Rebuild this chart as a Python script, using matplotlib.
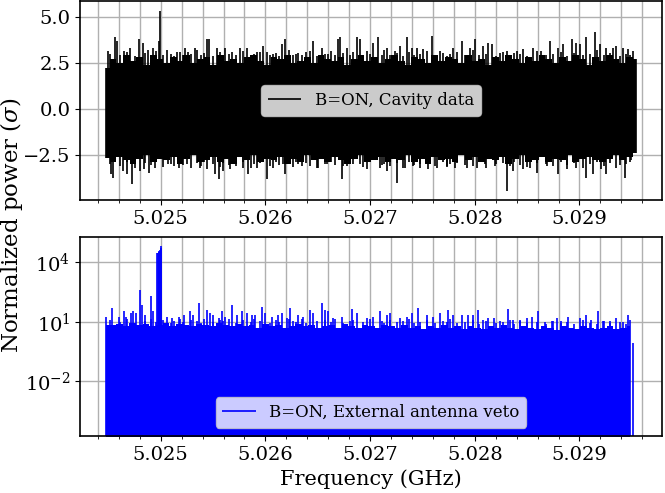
import matplotlib
matplotlib.use("Agg")
import matplotlib.pyplot as plt
import numpy as np
from matplotlib.ticker import MultipleLocator, FormatStrFormatter, FixedLocator, NullLocator

plt.rcParams["font.family"] = "DejaVu Serif"
plt.rcParams["mathtext.fontset"] = "dejavuserif"

# frequency span of the scans (GHz)
CAV_START, CAV_END = 5.02448, 5.02954
VETO_START, VETO_END = 5.02448, 5.029483

# cavity data: dense noise band (upper / lower edge) read across the span
cav_band_hi = [2.2, 2.7, 2.5, 2.9, 2.6, 2.8, 2.4, 2.9, 2.7, 2.5, 2.8, 2.6, 2.9, 2.5, 2.7, 2.8,
               2.4, 2.9, 2.6, 2.7, 2.5, 2.8, 2.9, 2.6, 2.4, 2.8, 2.7, 2.9, 2.5, 2.6, 2.8, 2.5,
               2.9, 2.7, 2.6, 2.8, 2.4, 2.7, 2.9, 2.6, 2.8, 2.5, 2.7, 2.9, 2.6, 2.4, 2.8, 2.7,
               2.5, 2.9, 2.6, 2.8, 2.7, 2.5, 2.9, 2.6, 2.7, 2.4, 2.8, 2.6, 2.9, 2.7, 2.5, 2.8,
               2.6, 2.9, 2.7, 2.5, 2.8, 2.6, 2.9, 2.7, 2.4, 2.8, 2.6, 2.9, 2.7, 2.5, 2.8, 2.7]
cav_band_lo = [-2.65, -2.9, -2.6, -2.8, -3.0, -2.7, -2.5, -2.9, -2.7, -2.8, -2.6, -3.0, -2.7,
               -2.5, -2.9, -2.8, -2.6, -2.9, -2.7, -3.0, -2.6, -2.8, -2.5, -2.9, -2.7, -2.8,
               -2.6, -3.0, -2.7, -2.9, -2.5, -2.8, -2.7, -2.9, -2.6, -2.8, -3.0, -2.7, -2.5,
               -2.9, -2.8, -2.6, -2.9, -2.7, -2.8, -2.5, -2.9, -2.7, -3.0, -2.6, -2.8, -2.7,
               -2.9, -2.5, -2.8, -2.6, -2.9, -2.7, -2.8, -2.6, -3.0, -2.7, -2.5, -2.9, -2.8,
               -2.6, -2.9, -2.7, -2.8, -2.5, -2.9, -2.7, -2.6, -2.8, -2.9, -2.7, -2.5, -2.8,
               -2.6, -2.4]

# cavity data: large excursions above the band
cav_up_freq = [5.024480, 5.024496, 5.024566, 5.024582, 5.024645, 5.024709, 5.024795, 5.024826,
               5.024878, 5.024931, 5.024979, 5.024989, 5.025059, 5.025154, 5.025234, 5.025265,
               5.025323, 5.025441, 5.025463, 5.025536, 5.025618, 5.025679, 5.025759, 5.025822,
               5.025918, 5.025975, 5.026013, 5.026071, 5.026156, 5.026188, 5.026315, 5.026427,
               5.026458, 5.026538, 5.026601, 5.026697, 5.026713, 5.026777, 5.026872, 5.026904,
               5.026968, 5.027031, 5.027078, 5.027158, 5.027238, 5.027285, 5.027349, 5.027397,
               5.027445, 5.027508, 5.027588, 5.027667, 5.027794, 5.027874, 5.027953, 5.028001,
               5.028080, 5.028128, 5.028160, 5.028239, 5.028303, 5.028399, 5.028462, 5.028557,
               5.028637, 5.028717, 5.028796, 5.028844, 5.028924, 5.028971, 5.029003, 5.029067,
               5.029146, 5.029194, 5.029258, 5.029321, 5.029353, 5.029416, 5.029464, 5.029512,
               5.029540]
cav_up_val = [2.2, 3.15, 3.9, 3.7, 3.15, 3.3, 3.8, 3.6, 3.2, 3.3, 3.7, 5.3, 3.2, 3.1, 3.3, 3.1,
              3.3, 3.8, 3.8, 3.3, 3.3, 3.1, 3.3, 3.3, 3.1, 3.4, 3.1, 3.0, 3.5, 3.8, 3.06, 3.15,
              3.7, 3.33, 2.97, 3.79, 3.88, 3.33, 3.88, 3.79, 3.15, 3.6, 3.88, 3.33, 3.15, 3.42,
              3.88, 3.33, 3.33, 3.24, 3.97, 3.15, 3.33, 3.7, 3.33, 3.79, 3.42, 3.6, 3.51, 3.06,
              3.15, 3.15, 3.24, 3.33, 3.15, 3.7, 3.33, 3.51, 3.79, 3.6, 3.51, 3.88, 4.15, 3.51,
              3.33, 3.33, 3.42, 3.33, 3.24, 3.15, 2.7]

# cavity data: large excursions below the band
cav_dn_freq = [5.024480, 5.024525, 5.024544, 5.024639, 5.024677, 5.024725, 5.024804, 5.024843,
               5.024884, 5.024948, 5.025074, 5.025170, 5.025250, 5.025377, 5.025441, 5.025520,
               5.025552, 5.025599, 5.025663, 5.025790, 5.025838, 5.025918, 5.026013, 5.026076,
               5.026172, 5.026188, 5.026315, 5.026427, 5.026506, 5.026586, 5.026729, 5.026777,
               5.026904, 5.026968, 5.027094, 5.027158, 5.027254, 5.027333, 5.027412, 5.027476,
               5.027555, 5.027635, 5.027731, 5.027810, 5.027922, 5.028017, 5.028096, 5.028192,
               5.028303, 5.028367, 5.028462, 5.028526, 5.028590, 5.028685, 5.028796, 5.028876,
               5.028971, 5.029067, 5.029130, 5.029210, 5.029258, 5.029353, 5.029432, 5.029496,
               5.029540]
cav_dn_val = [-2.65, -3.55, -3.73, -3.37, -3.55, -4.1, -3.37, -3.28, -3.46, -3.19, -3.0, -3.19,
              -3.0, -3.19, -3.28, -3.55, -3.82, -3.37, -3.28, -3.19, -3.55, -3.19, -3.82, -3.19,
              -3.0, -3.55, -3.0, -3.1, -3.19, -3.0, -3.82, -3.1, -3.0, -3.28, -3.19, -3.37, -4.0,
              -3.19, -3.1, -3.19, -3.28, -3.19, -3.1, -3.19, -3.19, -3.19, -3.0, -3.1, -4.46,
              -3.37, -3.28, -3.19, -3.46, -3.1, -3.55, -3.28, -3.19, -3.73, -3.55, -3.28, -3.55,
              -3.19, -3.73, -2.8, -2.4]

# smaller spikes at the edge of the bands (both panels)
mid_freq = [5.024520, 5.024610, 5.024680, 5.024750, 5.024850, 5.024905, 5.024955, 5.025020,
            5.025095, 5.025125, 5.025185, 5.025210, 5.025290, 5.025350, 5.025385, 5.025410,
            5.025500, 5.025570, 5.025595, 5.025650, 5.025720, 5.025790, 5.025860, 5.025890,
            5.025945, 5.026040, 5.026100, 5.026130, 5.026225, 5.026260, 5.026290, 5.026350,
            5.026390, 5.026490, 5.026570, 5.026630, 5.026660, 5.026745, 5.026810, 5.026840,
            5.026935, 5.027000, 5.027110, 5.027130, 5.027190, 5.027260, 5.027315, 5.027375,
            5.027420, 5.027475, 5.027540, 5.027620, 5.027700, 5.027730, 5.027760, 5.027830,
            5.027910, 5.027980, 5.028040, 5.028105, 5.028200, 5.028270, 5.028340, 5.028370,
            5.028430, 5.028500, 5.028590, 5.028680, 5.028750, 5.028820, 5.028880, 5.028950,
            5.029035, 5.029100, 5.029170, 5.029230, 5.029290, 5.029385, 5.029440, 5.029478]
cav_mid_up = [3.0, 2.9, 3.1, 2.85, 3.05, 2.9, 3.15, 2.95, 3.0, 2.85,
              3.1, 2.9, 3.0, 3.2, 2.9, 3.05, 2.85, 3.1, 2.95, 3.0,
              2.9, 3.15, 2.85, 3.0, 3.1, 2.9, 3.05, 2.85, 3.2, 2.95,
              3.0, 2.9, 3.1, 2.85, 3.0, 3.15, 2.9, 3.05, 2.95, 3.1,
              2.85, 3.0, 2.9, 3.2, 2.95, 3.05, 2.85, 3.1, 2.9, 3.0,
              3.15, 2.9, 3.05, 2.85, 3.0, 3.1, 2.9, 3.2, 2.95, 3.0,
              2.85, 3.1, 2.9, 3.05, 3.0, 2.85, 3.15, 2.9, 3.0, 3.1,
              2.85, 3.05, 2.95, 3.0, 3.2, 2.9, 3.05, 2.85, 3.0, 2.9]
cav_mid_dn = [-3.0, -3.1, -2.9, -3.2, -2.95, -3.05, -2.9, -3.15, -3.0, -3.1,
              -2.9, -3.05, -3.2, -2.95, -3.1, -2.9, -3.0, -3.15, -2.95, -3.05,
              -3.1, -2.9, -3.2, -3.0, -2.95, -3.1, -2.9, -3.05, -3.0, -3.15,
              -2.9, -3.1, -2.95, -3.2, -3.0, -2.9, -3.05, -3.1, -2.95, -3.0,
              -3.15, -2.9, -3.05, -3.0, -3.1, -2.95, -3.2, -2.9, -3.05, -3.0,
              -2.95, -3.1, -2.9, -3.15, -3.0, -2.95, -3.05, -3.1, -2.9, -3.2,
              -3.0, -2.95, -3.1, -2.9, -3.05, -3.15, -2.95, -3.0, -3.1, -2.9,
              -3.05, -2.95, -3.2, -3.0, -2.9, -3.1, -2.95, -3.05, -3.0, -2.9]
veto_mid = [12, 10, 14, 9, 11, 13, 10, 12, 9, 11,
            14, 10, 12, 11, 9, 13, 10, 12, 11, 14,
            9, 12, 10, 13, 11, 9, 12, 10, 14, 11,
            10, 13, 9, 11, 12, 10, 14, 9, 11, 12,
            10, 13, 11, 9, 12, 10, 11, 13, 9, 10,
            12, 9, 11, 10, 13, 9, 10, 12, 8, 11,
            9, 10, 12, 8, 11, 9, 10, 8, 11, 9,
            10, 8, 12, 9, 8, 11, 9, 10, 8, 12]

# external antenna veto: dense band top
veto_band = [7, 7, 8, 6, 9, 7, 8, 6, 7, 9, 6, 8, 7, 6, 8, 7, 6, 9, 7, 6, 8, 6, 7, 5, 8, 6, 7,
             5, 6, 8, 6, 7, 5, 6, 7, 5, 8, 6, 5, 7, 6, 5, 7, 6, 5, 7, 5, 6, 4.5, 6, 5, 7, 5, 6,
             4.5, 6, 5, 4.5, 6, 5, 7, 5, 4.5, 6, 5, 4.5, 6, 5, 4, 6, 5, 4.5, 6, 5, 4.5, 5, 6,
             4.5, 5, 6]

# external antenna veto: peaks
veto_freq = [5.024480, 5.024534, 5.024597, 5.024645, 5.024671, 5.024716, 5.024740, 5.024763,
             5.024804, 5.024821, 5.024852, 5.024906, 5.024931, 5.024964, 5.024970, 5.024979,
             5.024987, 5.024995, 5.025000, 5.025005, 5.025059, 5.025107, 5.025170, 5.025218,
             5.025281, 5.025313, 5.025370, 5.025441, 5.025472, 5.025504, 5.025552, 5.025584,
             5.025615, 5.025679, 5.025727, 5.025775, 5.025822, 5.025870, 5.025902, 5.025966,
             5.025997, 5.026061, 5.026124, 5.026156, 5.026204, 5.026236, 5.026315, 5.026363,
             5.026427, 5.026458, 5.026538, 5.026570, 5.026601, 5.026649, 5.026729, 5.026824,
             5.026872, 5.026968, 5.027031, 5.027094, 5.027158, 5.027190, 5.027285, 5.027349,
             5.027397, 5.027460, 5.027540, 5.027603, 5.027667, 5.027746, 5.027794, 5.027874,
             5.027937, 5.027985, 5.028033, 5.028080, 5.028128, 5.028182, 5.028239, 5.028319,
             5.028367, 5.028430, 5.028494, 5.028542, 5.028605, 5.028669, 5.028733, 5.028790,
             5.028828, 5.028891, 5.029003, 5.029067, 5.029114, 5.029178, 5.029225, 5.029289,
             5.029353, 5.029416, 5.029464, 5.029509]
veto_val = [18, 48, 18, 33, 18, 27, 33, 27, 400, 71, 22, 200, 33, 28000, 30000, 33000, 36000,
            42000, 50000, 62000, 18, 15, 18, 22, 33, 22, 90, 40, 27, 22, 15, 33, 18, 71, 22, 33,
            27, 22, 22, 58, 27, 18, 22, 27, 15, 48, 22, 18, 40, 27, 86, 40, 33, 15, 18, 45, 27,
            15, 18, 33, 22, 27, 15, 18, 27, 48, 22, 18, 27, 40, 22, 22, 22, 22, 40, 12.6, 15, 16,
            11, 46, 12.6, 12.6, 15, 18, 33, 10, 11, 15, 11, 18, 15, 22, 12.6, 33, 11, 11, 15, 10,
            22, 0.8]

FLOOR = 1e-7
LW = 1.2

fig = plt.figure(figsize=(6.65, 4.93), dpi=100)
ax1 = fig.add_axes([0.1203, 0.5943, 0.875, 0.4037])
ax2 = fig.add_axes([0.1203, 0.1156, 0.875, 0.4037])

# top panel: cavity data
ax1.fill_between(np.linspace(CAV_START, CAV_END, len(cav_band_hi)), 0, cav_band_hi,
                 color="black", lw=0, step="mid")
ax1.fill_between(np.linspace(CAV_START, CAV_END, len(cav_band_lo)), cav_band_lo, 0,
                 color="black", lw=0, step="mid")
ax1.vlines(mid_freq, 0, cav_mid_up, color="black", lw=LW)
ax1.vlines(mid_freq, cav_mid_dn, 0, color="black", lw=LW)
ax1.vlines(cav_up_freq, 0, cav_up_val, color="black", lw=LW, label="B=ON, Cavity data")
ax1.vlines(cav_dn_freq, cav_dn_val, 0, color="black", lw=LW)
ax1.set_ylim(-4.95, 5.86)
ax1.yaxis.set_major_locator(MultipleLocator(2.5))
ax1.legend(loc="center", fontsize=12)

# bottom panel: external antenna veto
ax2.set_yscale("log")
ax2.fill_between(np.linspace(VETO_START, VETO_END, len(veto_band)), FLOOR, veto_band,
                 color="blue", lw=0, step="mid")
ax2.vlines(mid_freq, FLOOR, veto_mid, color="blue", lw=LW)
ax2.vlines(veto_freq, FLOOR, veto_val, color="blue", lw=LW,
           label="B=ON, External antenna veto")
ax2.set_ylim(10 ** -4.76, 10 ** 5.27)
ax2.yaxis.set_major_locator(FixedLocator([1e-2, 1e1, 1e4]))
ax2.yaxis.set_minor_locator(NullLocator())
ax2.legend(loc="lower center", fontsize=12)
ax2.set_xlabel("Frequency (GHz)", fontsize=15)

for ax in (ax1, ax2):
    ax.set_xlim(5.024229, 5.029787)
    ax.xaxis.set_major_locator(MultipleLocator(0.001))
    ax.xaxis.set_minor_locator(MultipleLocator(0.0002))
    ax.xaxis.set_major_formatter(FormatStrFormatter("%.3f"))
    ax.grid(True, which="major", color="#b0b0b0", lw=1.0)
    ax.grid(True, which="minor", axis="x", color="#b0b0b0", lw=1.0)
    ax.set_axisbelow(True)
    ax.tick_params(labelsize=14)
    for sp in ax.spines.values():
        sp.set_linewidth(1.2)

fig.text(12 / 665, 1 - 225 / 493, "Normalized power ($\\sigma$)", rotation=90,
         ha="center", va="center", fontsize=16.5)

fig.savefig("out.png", dpi=100)
